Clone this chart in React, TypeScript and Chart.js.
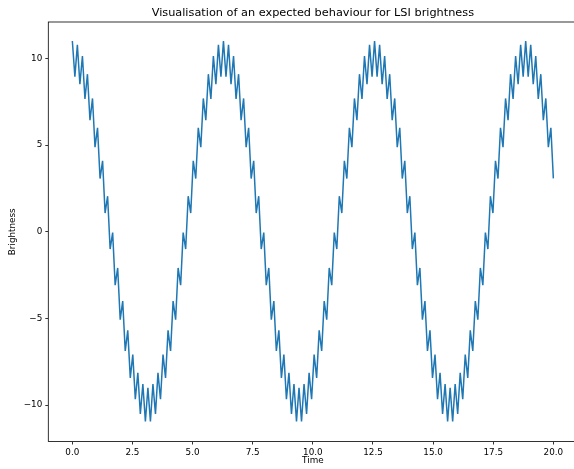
import React, { useEffect, useRef } from "react";
import { Chart, registerables } from "chart.js";

Chart.register(...registerables);

const TITLE = "Visualisation of an expected behaviour for LSI brightness";
const X_LABEL = "Time";
const Y_LABEL = "Brightness";

const xTicks = [0, 2.5, 5, 7.5, 10, 12.5, 15, 17.5, 20];
const yTicks = [-10, -5, 0, 5, 10];

const timeValues = [
  0, 0.105, 0.209, 0.314, 0.419, 0.524, 0.628, 0.733, 0.838, 0.942,
  1.047, 1.152, 1.257, 1.361, 1.466, 1.571, 1.676, 1.78, 1.885, 1.99,
  2.094, 2.199, 2.304, 2.409, 2.513, 2.618, 2.723, 2.827, 2.932, 3.037,
  3.142, 3.246, 3.351, 3.456, 3.56, 3.665, 3.77, 3.875, 3.979, 4.084,
  4.189, 4.294, 4.398, 4.503, 4.608, 4.712, 4.817, 4.922, 5.027, 5.131,
  5.236, 5.341, 5.445, 5.55, 5.655, 5.76, 5.864, 5.969, 6.074, 6.178,
  6.283, 6.388, 6.493, 6.597, 6.702, 6.807, 6.912, 7.016, 7.121, 7.226,
  7.33, 7.435, 7.54, 7.645, 7.749, 7.854, 7.959, 8.063, 8.168, 8.273,
  8.378, 8.482, 8.587, 8.692, 8.796, 8.901, 9.006, 9.111, 9.215, 9.32,
  9.425, 9.529, 9.634, 9.739, 9.844, 9.948, 10.053, 10.158, 10.263, 10.367,
  10.472, 10.577, 10.681, 10.786, 10.891, 10.996, 11.1, 11.205, 11.31, 11.414,
  11.519, 11.624, 11.729, 11.833, 11.938, 12.043, 12.147, 12.252, 12.357, 12.462,
  12.566, 12.671, 12.776, 12.881, 12.985, 13.09, 13.195, 13.299, 13.404, 13.509,
  13.614, 13.718, 13.823, 13.928, 14.032, 14.137, 14.242, 14.347, 14.451, 14.556,
  14.661, 14.765, 14.87, 14.975, 15.08, 15.184, 15.289, 15.394, 15.499, 15.603,
  15.708, 15.813, 15.917, 16.022, 16.127, 16.232, 16.336, 16.441, 16.546, 16.65,
  16.755, 16.86, 16.965, 17.069, 17.174, 17.279, 17.383, 17.488, 17.593, 17.698,
  17.802, 17.907, 18.012, 18.117, 18.221, 18.326, 18.431, 18.535, 18.64, 18.745,
  18.85, 18.954, 19.059, 19.164, 19.268, 19.373, 19.478, 19.583, 19.687, 19.792,
  19.897, 20,
];

const brightnessValues = [
  11, 8.95, 10.78, 8.51, 10.14, 7.66, 9.09, 6.43, 7.69, 4.88,
  6, 3.07, 4.09, 1.08, 2.05, -1, -0.05, -3.08, -2.09, -5.07,
  -4, -6.88, -5.69, -8.43, -7.09, -9.66, -8.14, -10.51, -8.78, -10.95,
  -9, -10.95, -8.78, -10.51, -8.14, -9.66, -7.09, -8.43, -5.69, -6.88,
  -4, -5.07, -2.09, -3.08, -0.05, -1, 2.05, 1.08, 4.09, 3.07,
  6, 4.88, 7.69, 6.43, 9.09, 7.66, 10.14, 8.51, 10.78, 8.95,
  11, 8.95, 10.78, 8.51, 10.14, 7.66, 9.09, 6.43, 7.69, 4.88,
  6, 3.07, 4.09, 1.08, 2.05, -1, -0.05, -3.08, -2.09, -5.07,
  -4, -6.88, -5.69, -8.43, -7.09, -9.66, -8.14, -10.51, -8.78, -10.95,
  -9, -10.95, -8.78, -10.51, -8.14, -9.66, -7.09, -8.43, -5.69, -6.88,
  -4, -5.07, -2.09, -3.08, -0.05, -1, 2.05, 1.08, 4.09, 3.07,
  6, 4.88, 7.69, 6.43, 9.09, 7.66, 10.14, 8.51, 10.78, 8.95,
  11, 8.95, 10.78, 8.51, 10.14, 7.66, 9.09, 6.43, 7.69, 4.88,
  6, 3.07, 4.09, 1.08, 2.05, -1, -0.05, -3.08, -2.09, -5.07,
  -4, -6.88, -5.69, -8.43, -7.09, -9.66, -8.14, -10.51, -8.78, -10.95,
  -9, -10.95, -8.78, -10.51, -8.14, -9.66, -7.09, -8.43, -5.69, -6.88,
  -4, -5.07, -2.09, -3.08, -0.05, -1, 2.05, 1.08, 4.09, 3.07,
  6, 4.88, 7.69, 6.43, 9.09, 7.66, 10.14, 8.51, 10.78, 8.95,
  11, 8.95, 10.78, 8.51, 10.14, 7.66, 9.09, 6.43, 7.69, 4.88,
  6, 3.08,
];

const FONT = "'DejaVu Sans', sans-serif";

const boxPlugin = {
  id: "axesBox",
  afterDraw(chart: any) {
    const { ctx, chartArea } = chart;
    ctx.save();
    ctx.strokeStyle = "#000";
    ctx.lineWidth = 0.8;
    ctx.strokeRect(
      chartArea.left,
      chartArea.top,
      chartArea.right - chartArea.left,
      chartArea.bottom - chartArea.top
    );
    // title centred over the axes, as matplotlib does
    ctx.fillStyle = "#000";
    ctx.font = `normal 11.3px ${FONT}`;
    ctx.textAlign = "center";
    ctx.textBaseline = "middle";
    ctx.fillText(TITLE, (chartArea.left + chartArea.right) / 2, 13);
    ctx.restore();
  },
};

export default function App() {
  const ref = useRef<HTMLCanvasElement | null>(null);

  useEffect(() => {
    if (!ref.current) return;
    const points = timeValues.map((t, i) => ({ x: t, y: brightnessValues[i] }));
    const minus = (s: string) => s.replace("-", "\u2212");
    const chart = new Chart(ref.current, {
      type: "line",
      data: {
        datasets: [
          {
            data: points,
            borderColor: "#1f77b4",
            borderWidth: 1.5,
            pointRadius: 0,
            tension: 0,
            fill: false,
          },
        ],
      },
      options: {
        animation: false,
        responsive: false,
        devicePixelRatio: 1,
        layout: { padding: { left: 0, right: 2.6, top: 22, bottom: 0 } },
        plugins: {
          legend: { display: false },
          tooltip: { enabled: false },
          title: { display: false },
        },
        scales: {
          x: {
            type: "linear",
            min: -1,
            max: 21,
            afterBuildTicks: (scale: any) => {
              scale.ticks = xTicks.map((v) => ({ value: v }));
            },
            afterFit: (scale: any) => {
              scale.height = 27.5;
            },
            ticks: {
              autoSkip: false,
              maxRotation: 0,
              padding: 3,
              color: "#000",
              font: { family: FONT, size: 8.8 },
              callback: (v: any) => minus(Number(v).toFixed(1)),
            },
            grid: {
              display: true,
              drawOnChartArea: false,
              drawTicks: true,
              tickLength: 3,
              color: "#000",
              lineWidth: 0.8,
            },
            border: { display: false },
            title: {
              display: true,
              text: X_LABEL,
              color: "#000",
              font: { family: FONT, size: 8.8 },
              padding: { top: 0, bottom: 2.7 },
            },
          },
          y: {
            type: "linear",
            min: -12.1,
            max: 12.1,
            afterBuildTicks: (scale: any) => {
              scale.ticks = yTicks.map((v) => ({ value: v }));
            },
            afterFit: (scale: any) => {
              scale.width = 48.3;
            },
            ticks: {
              autoSkip: false,
              padding: 3,
              color: "#000",
              font: { family: FONT, size: 8.8 },
              callback: (v: any) => minus(String(v)),
            },
            grid: {
              display: true,
              drawOnChartArea: false,
              drawTicks: true,
              tickLength: 3,
              color: "#000",
              lineWidth: 0.8,
            },
            border: { display: false },
            title: {
              display: true,
              text: Y_LABEL,
              color: "#000",
              font: { family: FONT, size: 8.8 },
              padding: { top: 7.7, bottom: 0 },
            },
          },
        },
      },
      plugins: [boxPlugin],
    } as any);
    return () => chart.destroy();
  }, []);

  return (
    <div
      style={{
        position: "absolute",
        left: 0,
        top: 0,
        width: 574,
        height: 469,
        overflow: "hidden",
        background: "#fff",
      }}
    >
      <canvas ref={ref} width={580} height={469} style={{ display: "block" }} />
    </div>
  );
}
